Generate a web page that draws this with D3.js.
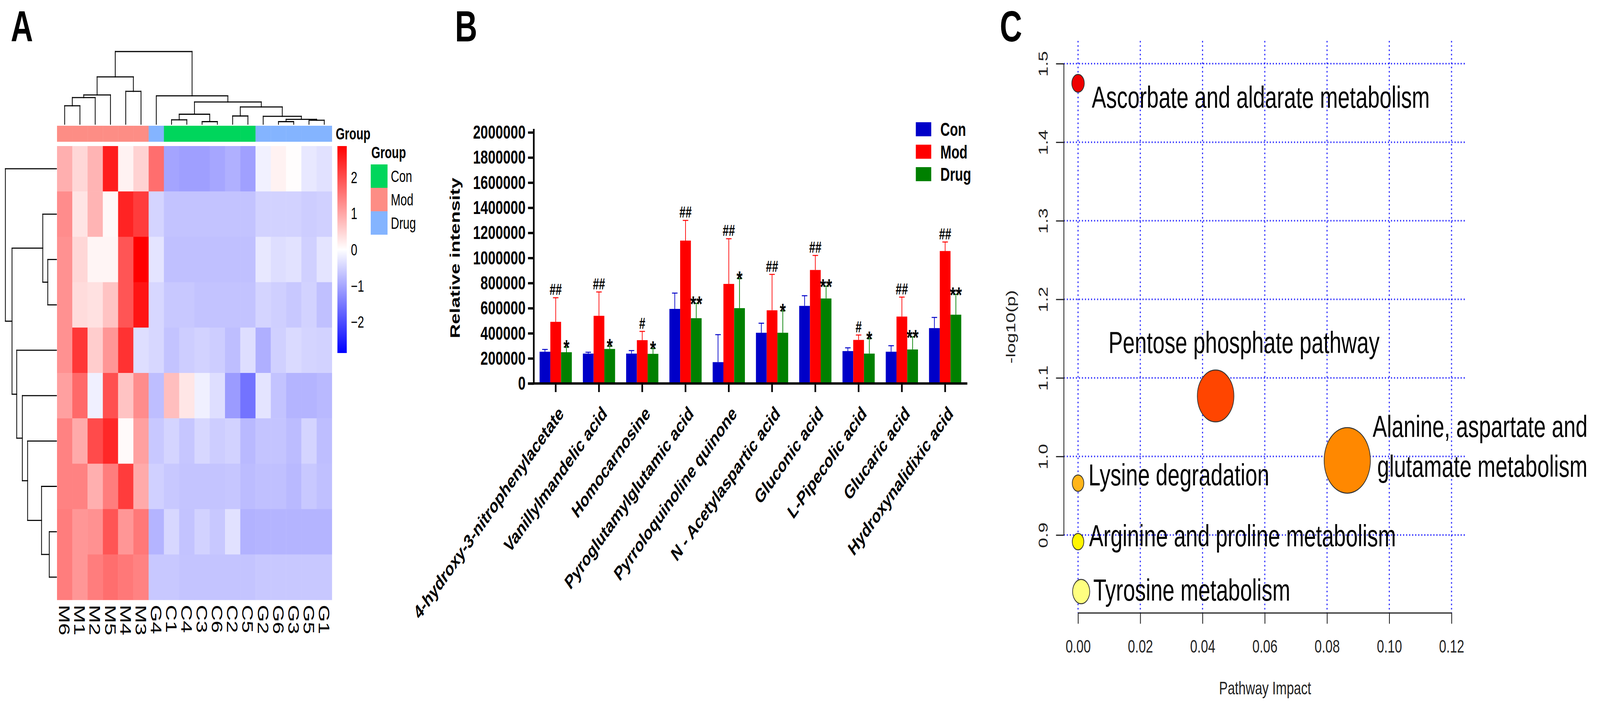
<!DOCTYPE html>
<html>
<head>
<meta charset="utf-8">
<script src="https://cdn.jsdelivr.net/npm/d3@7"></script>
<style>
  html, body { margin: 0; padding: 0; background: #fff; overflow: hidden; }
  #fig { display: block; width: 100vw; height: 100vh; }
  text { font-family: "Liberation Sans", Arial, sans-serif; }
</style>
</head>
<body>
<svg id="fig" viewBox="0 0 5809 1813" preserveAspectRatio="none"></svg>
<script>
// ---------- Panel A: heatmap data ----------
const sampleNames = ["M6","M1","M2","M5","M4","M3","G4","C1","C4","C3","C6","C2","C5","G2","G6","G3","G5","G1"];
const sampleGroup = ["Mod","Mod","Mod","Mod","Mod","Mod","Drug","Con","Con","Con","Con","Con","Con","Drug","Drug","Drug","Drug","Drug"];
const groupLevels = ["Con","Mod","Drug"];
const zScores = [
  [0.90,0.45,0.84,2.52,0.15,0.50,1.63,-1.02,-1.08,-1.08,-1.00,-0.89,-1.07,-0.16,0.15,0.02,-0.26,-0.34],
  [1.29,0.30,0.84,0.08,2.47,2.19,-0.48,-0.67,-0.67,-0.67,-0.67,-0.67,-0.67,-0.50,-0.50,-0.50,-0.56,-0.53],
  [1.23,0.45,0.11,0.11,1.91,2.86,-0.30,-0.71,-0.71,-0.71,-0.71,-0.71,-0.71,-0.26,-0.37,-0.33,-0.53,-0.30],
  [1.23,0.39,0.34,0.67,1.91,2.64,-0.45,-0.62,-0.62,-0.67,-0.67,-0.67,-0.67,-0.48,-0.54,-0.62,-0.50,-0.71],
  [1.23,2.24,0.56,1.18,2.30,-0.37,-0.45,-0.67,-0.56,-0.50,-0.56,-0.73,-0.37,-0.90,-0.53,-0.41,-0.48,-0.50],
  [1.07,1.68,-0.17,1.96,0.67,1.29,-0.73,0.73,0.28,-0.17,-0.37,-1.12,-1.57,-0.30,-0.67,-0.84,-0.84,-0.79],
  [1.40,0.95,2.02,2.41,0.06,1.07,-0.62,-0.48,-0.64,-0.45,-0.56,-0.50,-0.79,-0.66,-0.66,-0.75,-0.48,-0.73],
  [1.40,1.40,0.90,1.46,2.19,0.95,-0.53,-0.62,-0.66,-0.66,-0.66,-0.64,-0.75,-0.71,-0.71,-0.79,-0.62,-0.71],
  [1.46,1.18,1.23,1.91,1.18,1.51,-0.84,-0.45,-0.67,-0.50,-0.62,-0.34,-0.86,-0.84,-0.84,-0.84,-0.84,-0.84],
  [1.46,1.18,1.46,1.63,1.51,1.40,-0.62,-0.62,-0.66,-0.66,-0.66,-0.66,-0.66,-0.62,-0.62,-0.62,-0.62,-0.62]
];
const colorbarTicks = [2, 1, 0, -1, -2];

// dendrograms as [mergeHeight, left, right]
const colTree = [10,
  [6.51, [4.03, [3.66, [2.53, "M6", "M1"], "M2"], "M5"], [4.52, "M4", "M3"]],
  [3.90, "G4",
    [3.06, [1.37, [0.60, "C1", "C4"], [0.35, "C3", "C6"]],
      [2.37, [1.13, "C2", "C5"],
        [1.08, "G2", [0.67, [0.35, "G6", "G3"], [0.54, "G5", "G1"]]]]]]
];
const rowTree = [10, 0,
  [8.70, [2.68, 1, [1.70, 2, 3]],
    [7.78, 4, [6.68, 5, [5.65, 6, [2.92, 7, [1.41, 8, 9]]]]]]
];

// ---------- Panel B: bar chart data ----------
const metabolites = ["4-hydroxy-3-nitrophenylacetate","Vanillylmandelic acid","Homocarnosine",
  "Pyroglutamylglutamic acid","Pyrroloquinoline quinone","N - Acetylaspartic acid","Gluconic acid",
  "L-Pipecolic acid","Glucaric acid","Hydroxynalidixic acid"];
const seriesNames = ["Con","Mod","Drug"];
const conMean  = [253000,238000,238000,594000,170000,404000,618000,258000,253000,441000];
const conSD    = [18000,11000,24000,126000,219000,76000,81000,26000,48000,85000];
const modMean  = [491000,539000,345000,1138000,793000,583000,904000,347000,533000,1055000];
const modSD    = [192000,190000,70000,161000,360000,286000,116000,39000,155000,72000];
const drugMean = [249000,275000,236000,520000,600000,404000,677000,238000,271000,548000];
const drugSD   = [41000,22000,43000,118000,236000,175000,98000,120000,100000,162000];
const modMarks  = ["##","##","#","##","##","##","##","#","##","##"];
const drugMarks = ["*","*","*","**","*","*","**","*","**","**"];
const yTicksB = [0,200000,400000,600000,800000,1000000,1200000,1400000,1600000,1800000,2000000];

// ---------- Panel C: pathway bubble data ----------
const pathways = ["Ascorbate and aldarate metabolism","Pentose phosphate pathway",
  "Alanine, aspartate and glutamate metabolism","Lysine degradation",
  "Arginine and proline metabolism","Tyrosine metabolism"];
const impact = [0.0, 0.0442, 0.0865, 0.0, 0.0, 0.001];
const negLogP = [1.475, 1.077, 0.995, 0.966, 0.8915, 0.828];
const bubbleWeight = [0.27, 0.79, 1.0, 0.25, 0.25, 0.37];
const xTicksC = [0, 0.02, 0.04, 0.06, 0.08, 0.10, 0.12];
const yTicksC = [0.9, 1.0, 1.1, 1.2, 1.3, 1.4, 1.5];

const svg = d3.select("#fig");
svg.append("rect").attr("width", 5809).attr("height", 1813).attr("fill", "#fff");

// panel letters
[["A", 39], ["B", 1652], ["C", 3630]].forEach(([t, x]) => {
  svg.append("text").attr("x", x).attr("y", 106).text(t)
    .attr("font-size", 112).attr("font-weight", "bold");
});

// =================== Panel A ===================
const gA = svg.append("g");
const hx = d3.scaleBand().domain(sampleNames).range([207, 1205]);
const hy = d3.scaleBand().domain(d3.range(zScores.length)).range([374, 1536]);
const zMax = 2.86;
const heatColor = d3.scaleLinear().domain([-zMax, 0, zMax]).range(["#0000FF", "#FFFFFF", "#FF0000"]);
const groupColor = d3.scaleOrdinal().domain(groupLevels).range(["#00D65C", "#FD8D85", "#84B4FF"]);

const cells = [];
zScores.forEach((row, i) => row.forEach((v, j) => cells.push({ i, j, v })));
gA.selectAll("rect.cell").data(cells).join("rect")
  .attr("class", "cell")
  .attr("x", d => hx(sampleNames[d.j]))
  .attr("y", d => hy(d.i))
  .attr("width", hx.bandwidth() + 0.6)
  .attr("height", hy.bandwidth() + 0.6)
  .attr("fill", d => heatColor(d.v));

// annotation bar
gA.selectAll("rect.ann").data(sampleNames).join("rect")
  .attr("class", "ann")
  .attr("x", d => hx(d)).attr("y", 322)
  .attr("width", hx.bandwidth() + 0.6).attr("height", 41)
  .attr("fill", (d, i) => groupColor(sampleGroup[i]));
gA.append("text").attr("x", 1219).attr("y", 342).attr("dy", "0.36em")
  .attr("font-size", 42).attr("font-weight", "bold").text("Group");

// column labels
gA.selectAll("text.col").data(sampleNames).join("text")
  .attr("class", "col")
  .attr("transform", d => `translate(${hx(d) + hx.bandwidth() / 2},1549) rotate(90)`)
  .attr("dy", "0.36em")
  .attr("font-size", 56)
  .text(d => d);

// dendrograms
function treeSegments(node, leafPos, segs) {
  if (!Array.isArray(node)) return { p: leafPos(node), h: 0 };
  const [h, a, b] = node;
  const A = treeSegments(a, leafPos, segs), B = treeSegments(b, leafPos, segs);
  segs.push([A.p, A.h, A.p, h], [A.p, h, B.p, h], [B.p, h, B.p, B.h]);
  return { p: (A.p + B.p) / 2, h };
}
const colSegs = [];
treeSegments(colTree, d => hx(d) + hx.bandwidth() / 2, colSegs);
const colH = d3.scaleLinear().domain([0, 10]).range([318, 132]);
gA.append("g").selectAll("line").data(colSegs).join("line")
  .attr("x1", d => d[0]).attr("y1", d => colH(d[1]))
  .attr("x2", d => d[2]).attr("y2", d => colH(d[3]))
  .attr("stroke", "#000").attr("stroke-width", 2.8).attr("stroke-linecap", "square");

const rowSegs = [];
treeSegments(rowTree, d => hy(d) + hy.bandwidth() / 2, rowSegs);
const rowH = d3.scaleLinear().domain([0, 10]).range([205, 19.5]);
gA.append("g").selectAll("line").data(rowSegs).join("line")
  .attr("y1", d => d[0]).attr("x1", d => rowH(d[1]))
  .attr("y2", d => d[2]).attr("x2", d => rowH(d[3]))
  .attr("stroke", "#000").attr("stroke-width", 2.8).attr("stroke-linecap", "square");

// colour bar
const cb = d3.scaleLinear().domain([-zMax, zMax]).range([904, 374]);
const grad = svg.append("defs").append("linearGradient").attr("id", "cbar")
  .attr("x1", 0).attr("y1", 1).attr("x2", 0).attr("y2", 0);
grad.selectAll("stop").data([-zMax, 0, zMax]).join("stop")
  .attr("offset", (d, i) => i / 2).attr("stop-color", d => heatColor(d));
gA.append("rect").attr("x", 1225).attr("y", cb(zMax)).attr("width", 34)
  .attr("height", cb(-zMax) - cb(zMax)).attr("fill", "url(#cbar)");
gA.selectAll("text.cbt").data(colorbarTicks).join("text")
  .attr("class", "cbt")
  .attr("x", 1274).attr("y", d => cb(d)).attr("dy", "0.36em")
  .attr("font-size", 42)
  .text(d => d < 0 ? "\u2212" + Math.abs(d) : d);

// group legend
gA.append("text").attr("x", 1348).attr("y", 405).attr("font-size", 42)
  .attr("font-weight", "bold").text("Group");
const lg = gA.selectAll("g.lg").data(groupLevels).join("g").attr("class", "lg")
  .attr("transform", (d, i) => `translate(1346,${421 + i * 60})`);
lg.append("rect").attr("width", 61).attr("height", 60).attr("fill", d => groupColor(d));
lg.append("text").attr("x", 73).attr("y", 30).attr("dy", "0.36em").attr("font-size", 42).text(d => d);

// =================== Panel B ===================
const gB = svg.append("g");
const bx = d3.scaleBand().domain(metabolites).range([1939, 3510]);
const bx1 = d3.scaleBand().domain(seriesNames).range([0, 117]);
const by = d3.scaleLinear().domain([0, 2000000]).range([982, 339]);
const barColor = d3.scaleOrdinal().domain(seriesNames).range(["#0000C8", "#FF0000", "#008000"]);
const meansBy = { Con: conMean, Mod: modMean, Drug: drugMean };
const sdBy = { Con: conSD, Mod: modSD, Drug: drugSD };

const bars = [];
metabolites.forEach((m, i) => seriesNames.forEach(s => bars.push({ m, s, v: meansBy[s][i], e: sdBy[s][i], i })));
const barX = d => bx(d.m) + (bx.bandwidth() - 117) / 2 + bx1(d.s);

// error bars (upper only)
const eb = gB.selectAll("g.eb").data(bars).join("g").attr("class", "eb")
  .attr("stroke", d => barColor(d.s)).attr("stroke-width", 2.5);
eb.append("line")
  .attr("x1", d => barX(d) + bx1.bandwidth() / 2).attr("x2", d => barX(d) + bx1.bandwidth() / 2)
  .attr("y1", d => by(d.v)).attr("y2", d => by(d.v + d.e));
eb.append("line")
  .attr("x1", d => barX(d) + bx1.bandwidth() / 2 - 10).attr("x2", d => barX(d) + bx1.bandwidth() / 2 + 10)
  .attr("y1", d => by(d.v + d.e)).attr("y2", d => by(d.v + d.e));

gB.selectAll("rect.bar").data(bars).join("rect")
  .attr("class", "bar")
  .attr("x", barX).attr("width", bx1.bandwidth())
  .attr("y", d => by(d.v)).attr("height", d => by(0) - by(d.v))
  .attr("fill", d => barColor(d.s));

// significance marks
gB.selectAll("text.hash").data(metabolites).join("text")
  .attr("class", "hash")
  .attr("x", (m, i) => bx(m) + (bx.bandwidth() - 117) / 2 + bx1("Mod") + bx1.bandwidth() / 2)
  .attr("y", (m, i) => by(modMean[i] + modSD[i]) - 7)
  .attr("text-anchor", "middle").attr("font-size", 40).attr("font-weight", "bold")
  .text((m, i) => modMarks[i]);
gB.selectAll("text.star").data(metabolites).join("text")
  .attr("class", "star")
  .attr("x", (m, i) => bx(m) + (bx.bandwidth() - 117) / 2 + bx1("Drug") + bx1.bandwidth() / 2)
  .attr("y", (m, i) => by(drugMean[i] + drugSD[i]) + 20)
  .attr("text-anchor", "middle").attr("font-size", 56).attr("font-weight", "bold")
  .text((m, i) => drugMarks[i]);

// axes
const yAxB = gB.append("g").attr("transform", "translate(1938,0)")
  .call(d3.axisLeft(by).tickValues(yTicksB).tickFormat(d3.format("d")).tickSize(21).tickSizeOuter(0).tickPadding(9));
const xAxB = gB.append("g").attr("transform", "translate(0,982)")
  .call(d3.axisBottom(bx).tickSize(22).tickSizeOuter(0));
[yAxB, xAxB].forEach(a => {
  a.selectAll("path, line").attr("stroke", "#000").attr("stroke-width", 6);
  a.selectAll("text").attr("fill", "#000").attr("font-size", 49).attr("font-weight", "bold")
    .attr("font-family", '"Liberation Sans", Arial, sans-serif');
});
yAxB.select(".domain").attr("d", `M0,${by(2000000) - 6}V${by(0)}`).attr("stroke-linecap", "square");
xAxB.select(".domain").attr("d", `M${1938 - 21},0H3512`);
xAxB.selectAll(".tick text")
  .attr("x", 0).attr("y", 0).attr("dy", 0)
  .attr("transform", "translate(32,80) rotate(-45)")
  .style("text-anchor", "end").attr("font-size", 50);

gB.append("text")
  .attr("transform", `translate(1669,${(by(0) + by(2000000)) / 2}) rotate(-90)`)
  .attr("text-anchor", "middle").attr("font-size", 50).attr("font-weight", "bold")
  .text("Relative intensity");

// legend
const lgB = gB.selectAll("g.lgB").data(seriesNames).join("g").attr("class", "lgB")
  .attr("transform", (d, i) => `translate(3325,${313 + i * 57.5})`);
lgB.append("rect").attr("width", 56).attr("height", 36).attr("fill", d => barColor(d));
lgB.append("text").attr("x", 89).attr("y", 35).attr("font-size", 48).attr("font-weight", "bold").text(d => d);

// =================== Panel C ===================
const gC = svg.append("g");
const cx = d3.scaleLinear().domain([0, 0.12]).range([3914, 5270]);
const cy = d3.scaleLinear().domain([0.9, 1.5]).range([1370, 163]);
const usrX = [-0.0046, 0.1248], usrY = [0.801, 1.529];
const rScale = d3.scaleLinear().domain([0, 1]).range([0, 84]);
const pColor = d3.scaleLinear()
  .domain([0.828, 0.8915, 0.966, 0.995, 1.077, 1.475])
  .range(["#FFFF80", "#FFF500", "#FFB51A", "#FF8800", "#FF4500", "#EE0000"]);

// dotted grid
gC.selectAll("line.vg").data(xTicksC).join("line").attr("class", "vg")
  .attr("x1", d => cx(d)).attr("x2", d => cx(d))
  .attr("y1", cy(usrY[1])).attr("y2", cy(usrY[0]))
  .attr("stroke", "#2c2cff").attr("stroke-width", 4).attr("stroke-dasharray", "4,7");
gC.selectAll("line.hg").data(yTicksC).join("line").attr("class", "hg")
  .attr("y1", d => cy(d)).attr("y2", d => cy(d))
  .attr("x1", cx(usrX[0])).attr("x2", cx(usrX[1]))
  .attr("stroke", "#2c2cff").attr("stroke-width", 4).attr("stroke-dasharray", "4,7");

// axes (R style)
const xAxC = gC.append("g").attr("transform", `translate(0,${cy(usrY[0])})`)
  .call(d3.axisBottom(cx).tickValues(xTicksC).tickFormat(d3.format(".2f")).tickSize(28).tickSizeOuter(0).tickPadding(40));
const yAxC = gC.append("g").attr("transform", `translate(${cx(usrX[0])},0)`)
  .call(d3.axisLeft(cy).tickValues(yTicksC).tickFormat(d3.format(".1f")).tickSize(28).tickSizeOuter(0));
[xAxC, yAxC].forEach(a => {
  a.selectAll("path, line").attr("stroke", "#222").attr("stroke-width", 3);
  a.selectAll("text").attr("fill", "#222").attr("font-size", 47)
    .attr("font-family", '"Liberation Sans", Arial, sans-serif');
});
yAxC.selectAll(".tick text").attr("x", 0).attr("y", 0).attr("dy", 0)
  .attr("transform", "translate(-58,0) rotate(-90)").style("text-anchor", "middle");
gC.append("text").attr("x", (cx(usrX[0]) + cx(usrX[1])) / 2).attr("y", 1778)
  .attr("text-anchor", "middle").attr("font-size", 47).attr("fill", "#222").text("Pathway Impact");
gC.append("text")
  .attr("transform", `translate(3686,${(cy(usrY[0]) + cy(usrY[1])) / 2}) rotate(-90)`)
  .attr("text-anchor", "middle").attr("font-size", 47).attr("fill", "#222").text("-log10(p)");

// bubbles
const pts = pathways.map((p, i) => ({ p, x: impact[i], y: negLogP[i], w: bubbleWeight[i] }));
gC.selectAll("circle").data(pts).join("circle")
  .attr("cx", d => cx(d.x)).attr("cy", d => cy(d.y)).attr("r", d => rScale(d.w))
  .attr("fill", d => pColor(d.y)).attr("stroke", "#333").attr("stroke-width", 2.5);

// labels (offsets from the bubble centre, in pixels)
const labelOffsets = {
  "Ascorbate and aldarate metabolism": [[50, 63]],
  "Pentose phosphate pathway": [[-389, -110]],
  "Alanine, aspartate and glutamate metabolism": [[92, -60, "Alanine, aspartate and"], [109, 42, "glutamate metabolism"]],
  "Lysine degradation": [[38, 6]],
  "Arginine and proline metabolism": [[40, 12]],
  "Tyrosine metabolism": [[44, 23]]
};
pts.forEach(d => {
  labelOffsets[d.p].forEach(o => {
    gC.append("text").attr("x", cx(d.x) + o[0]).attr("y", cy(d.y) + o[1])
      .attr("font-family", "Lato, 'Open Sans', sans-serif").attr("font-size", 78)
      .attr("fill", "#000").text(o[2] || d.p);
  });
});
</script>
</body>
</html>
